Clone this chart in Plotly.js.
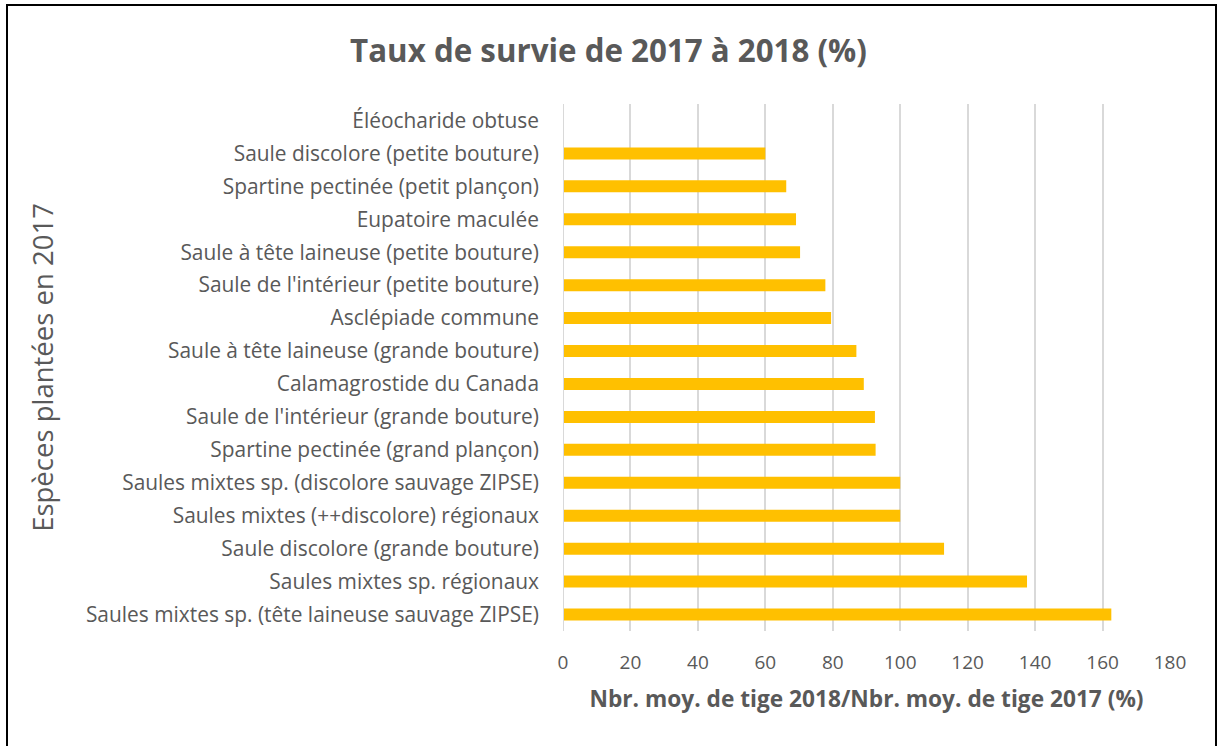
<!DOCTYPE html>
<html>
<head>
<meta charset="utf-8">
<script src="https://cdn.plot.ly/plotly-3.0.1.min.js"></script>
<style>
html,body{margin:0;padding:0;background:#fff;overflow:hidden;}
#chart{width:1217px;height:746px;}
#frame{position:absolute;left:6px;top:4px;width:1207px;height:760px;border:2px solid #000;pointer-events:none;}
</style>
</head>
<body>
<div id="chart"></div>
<div id="frame"></div>
<script>
const categories = [
  "Éléocharide obtuse",
  "Saule discolore (petite bouture)",
  "Spartine pectinée (petit plançon)",
  "Eupatoire maculée",
  "Saule à tête laineuse (petite bouture)",
  "Saule de l'intérieur (petite bouture)",
  "Asclépiade commune",
  "Saule à tête laineuse (grande bouture)",
  "Calamagrostide du Canada",
  "Saule de l'intérieur (grande bouture)",
  "Spartine pectinée (grand plançon)",
  "Saules mixtes sp. (discolore sauvage ZIPSE)",
  "Saules mixtes (++discolore) régionaux",
  "Saule discolore (grande bouture)",
  "Saules mixtes sp. régionaux",
  "Saules mixtes sp. (tête laineuse sauvage ZIPSE)"
];
const survie = [0, 60, 66.2, 69.1, 70.3, 77.8, 79.5, 87.0, 89.2, 92.5, 92.7, 100, 100, 113.0, 137.6, 162.6];
const xTicks = [0, 20, 40, 60, 80, 100, 120, 140, 160, 180];

const txt = '#595959';
const font = 'Open Sans, sans-serif';

Plotly.newPlot('chart', [{
  type: 'bar',
  orientation: 'h',
  y: categories,
  x: survie,
  marker: {color: '#FFC000'},
  hoverinfo: 'x+y'
}], {
  width: 1217, height: 746,
  paper_bgcolor: '#fff', plot_bgcolor: '#fff',
  margin: {l: 563, r: 47, t: 104, b: 115},
  bargap: 0.635,
  showlegend: false,
  title: {text: '<b>Taux de survie de 2017 à 2018 (%)</b>', x: 0.5, xref: 'container', xanchor: 'center', y: 0.932, yref: 'container', yanchor: 'middle', font: {family: font, size: 31.3, color: txt}},
  xaxis: {
    range: [0, 180], tickvals: xTicks, ticktext: xTicks.map(String),
    showgrid: true, gridcolor: '#D9D9D9', gridwidth: 2,
    zeroline: false, showline: false, ticks: '',
    ticklabelstandoff: 18,
    tickfont: {family: font, size: 19, color: txt},
    title: {text: '<b>Nbr. moy. de tige 2018/Nbr. moy. de tige 2017 (%)</b>', standoff: 17, font: {family: font, size: 22.7, color: txt}},
    fixedrange: true
  },
  yaxis: {
    type: 'category', autorange: 'reversed',
    showgrid: false, zeroline: false, showline: false, ticks: '',
    ticklabelstandoff: 23,
    tickfont: {family: font, size: 20.9, color: txt},
    title: {text: 'Espèces plantées en 2017', standoff: 24, font: {family: font, size: 27.5, color: txt}},
    fixedrange: true
  },
  shapes: [{type: 'line', xref: 'x', yref: 'paper', x0: 0, x1: 0, y0: 0, y1: 1, line: {color: '#D9D9D9', width: 2}}]
}, {displayModeBar: false, responsive: false});
</script>
</body>
</html>
